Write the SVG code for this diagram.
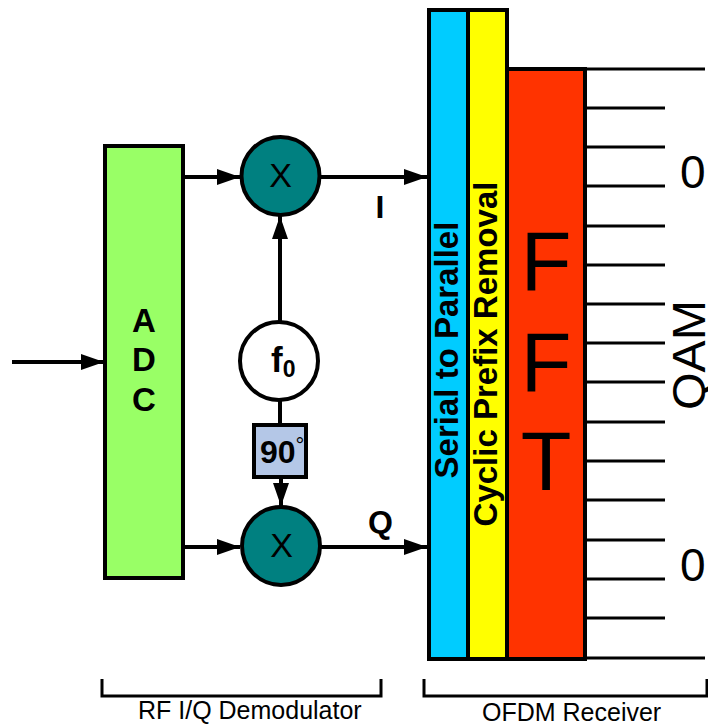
<svg xmlns="http://www.w3.org/2000/svg" width="708" height="726" viewBox="0 0 708 726">
<style>
text{font-family:"Liberation Sans",Arial,sans-serif;fill:#000}
.b{font-weight:700}
.box{stroke:#000;stroke-width:4}
.l{stroke:#000;stroke-width:4;fill:none}
.t{stroke:#000;stroke-width:3;fill:none}
</style>
<defs><marker id="a" markerUnits="userSpaceOnUse" markerWidth="23" markerHeight="16" refX="23" refY="8" orient="auto"><path d="M0 0L23 8L0 16Z" fill="#000"/></marker></defs>
<g id="connectors">
<path class="l" marker-end="url(#a)" d="M12 362H104"/>
<path class="l" marker-end="url(#a)" d="M184 177H240"/>
<path class="l" marker-end="url(#a)" d="M184 547H240"/>
<path class="l" marker-end="url(#a)" d="M320 177H427"/>
<path class="l" marker-end="url(#a)" d="M320 547H427"/>
<path class="l" marker-end="url(#a)" d="M280 322V216"/>
<path class="l" d="M280 400V425"/>
<path class="l" marker-end="url(#a)" d="M281 478V506"/>
<path class="t" d="M586 69H705M586 108H665M586 147H665M586 186H665M586 226H665M586 265H665M586 304H665M586 343H665M586 382H665M586 422H665M586 461H665M586 500H665M586 540H665M586 579H665M586 618H665M586 658H705"/>
<path class="t" d="M102 679V696H381V679"/>
<path class="t" d="M424 679V696H707V679"/>
</g>
<g id="adc"><rect class="box" x="105" y="146" width="78" height="432" fill="#99ff66"/>
<text class="b" font-size="33" text-anchor="middle" x="144" y="332">A</text><text class="b" font-size="33" text-anchor="middle" x="144" y="371">D</text><text class="b" font-size="33" text-anchor="middle" x="144" y="411">C</text></g>
<g id="mixer-i"><circle class="box" cx="280.5" cy="176" r="39" fill="#008080"/><text font-size="34" text-anchor="middle" x="280.5" y="187">X</text></g>
<g id="mixer-q"><circle class="box" cx="281" cy="546" r="39" fill="#008080"/><text font-size="34" text-anchor="middle" x="281.5" y="557">X</text></g>
<g id="osc"><circle class="box" cx="279" cy="361" r="39" fill="#fff"/><text class="b" font-size="35" x="271" y="372">f<tspan font-size="23" dy="5">0</tspan></text></g>
<g id="phase"><rect class="box" x="254" y="425" width="52" height="52" fill="#b4c7e7"/><text class="b" font-size="32" x="260" y="463">90</text><text font-size="22" x="295.500" y="453">°</text></g>
<g id="sp"><rect class="box" x="429" y="10" width="39" height="649" fill="#00ccff"/><text class="b" font-size="33" text-anchor="middle" transform="translate(458,350) rotate(-90)">Serial to Parallel</text></g>
<g id="cp"><rect class="box" x="468" y="10" width="39" height="649" fill="#ffff00"/><text class="b" font-size="33" text-anchor="middle" transform="translate(497,354) rotate(-90)">Cyclic Prefix Removal</text></g>
<g id="fft"><rect class="box" x="507" y="69" width="78" height="590" fill="#ff3300"/>
<text font-size="83" text-anchor="middle" x="546" y="290">F</text><text font-size="83" text-anchor="middle" x="546" y="391">F</text><text font-size="83" text-anchor="middle" x="546" y="490">T</text></g>
<g id="labels">
<text class="b" font-size="32" x="375.500" y="218">I</text>
<text class="b" font-size="32" x="368" y="533">Q</text>
<text font-size="46" x="680" y="188">0</text>
<text font-size="46" x="680" y="581">0</text>
<text font-size="46" text-anchor="middle" textLength="110" lengthAdjust="spacingAndGlyphs" transform="translate(705,355) rotate(-90)">QAM</text>
<text font-size="25" x="138" y="719">RF I/Q Demodulator</text>
<text font-size="25" x="482" y="721">OFDM Receiver</text>
</g>
</svg>
